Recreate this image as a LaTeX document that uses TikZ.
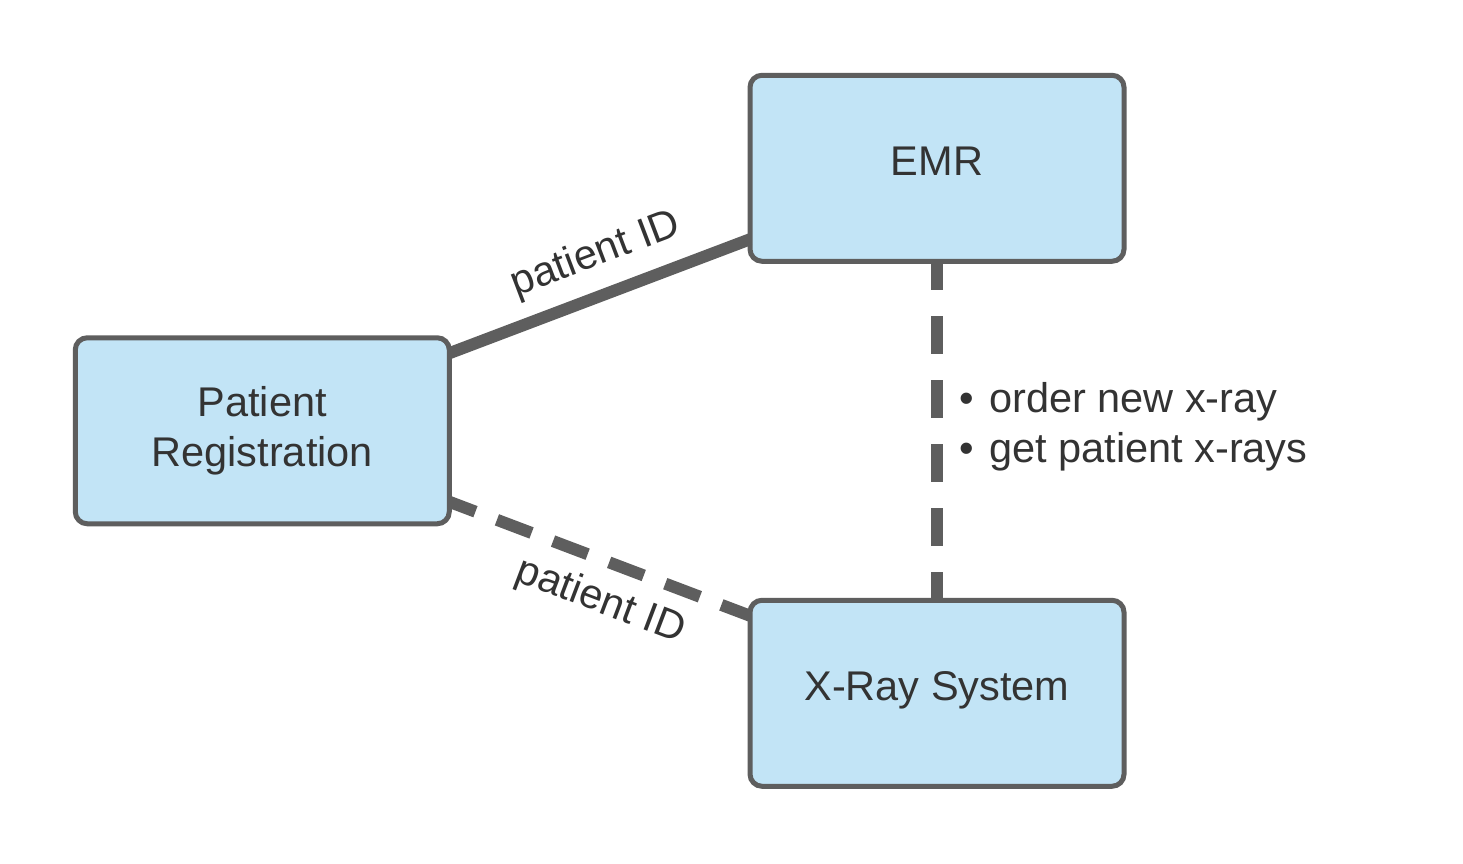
\documentclass[tikz,border=0pt]{standalone}
\usepackage{fontspec}
\setmainfont{Liberation Sans}
\usetikzlibrary{calc}
\definecolor{boxfill}{HTML}{C2E4F6}
\definecolor{edgegray}{HTML}{5E5E5E}
\definecolor{ink}{HTML}{333333}
\begin{document}
\begin{tikzpicture}[x=1pt,y=-1pt,
  sysbox/.style={draw=edgegray, fill=boxfill, line width=5pt, rounded corners=12pt,
    minimum width=374pt, minimum height=186pt, outer sep=0pt, inner sep=0pt,
    text=ink, font=\fontsize{41.5}{50}\selectfont, align=center},
  oneline/.style={text height=29.7pt, text depth=16.2pt},
  solidlink/.style={draw=edgegray, line width=12pt},
  dashlink/.style={draw=edgegray, line width=12pt, dash pattern=on 37pt off 23pt, dash phase=9pt},
  vdashlink/.style={draw=edgegray, line width=12pt, dash pattern=on 37.7pt off 26.3pt, dash phase=9.25pt},
  linklabel/.style={text=ink, font=\fontsize{41.5}{48}\selectfont, sloped, inner sep=14.4pt},
  notetext/.style={text=ink, font=\fontsize{41.5}{49.4}\selectfont, align=left, inner sep=0pt}
]
\useasboundingbox (0,0) rectangle (1463,863);
\fill[white] (0,0) rectangle (1463,863);

\node[sysbox, oneline] (emr) at (937,168.25) {EMR};
\node[sysbox] (pr) at (262.25,430.75) {Patient\\Registration};
\node[sysbox, oneline] (xr) at (937,693.25) {X-Ray System};

\draw[solidlink] ($(pr.north east)+(0,15.5)$) -- node[linklabel, pos=0.535, anchor=south] (l1) {patient ID} ($(emr.south west)+(0,-22)$);
\draw[dashlink] ($(pr.south east)+(0,-22)$) -- node[linklabel, pos=0.55, anchor=north] (l2) {patient ID} ($(xr.north west)+(0,15.5)$);
\draw[vdashlink] (emr.south) -- (xr.north);

\node[notetext, anchor=north west] (note) at (959,382.5) {\makebox[30pt][l]{•}order new x-ray\\\makebox[30pt][l]{•}get patient x-rays};
\end{tikzpicture}
\end{document}
